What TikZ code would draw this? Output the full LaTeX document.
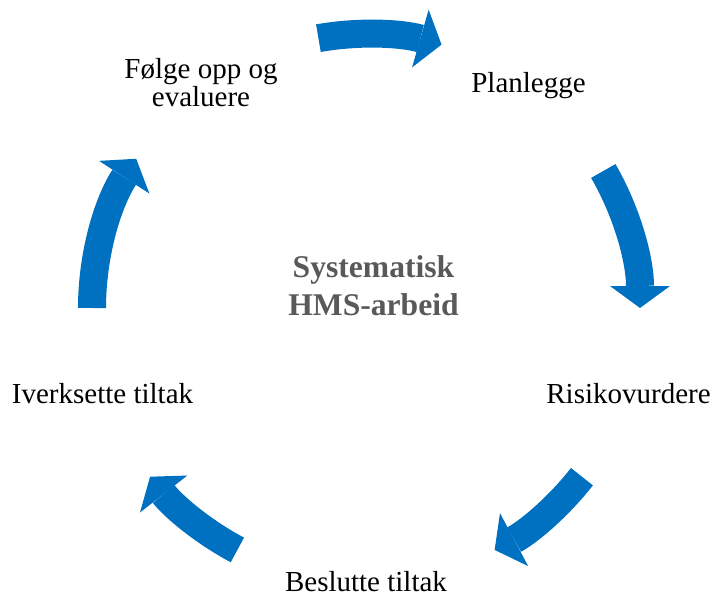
\documentclass[tikz,border=0pt]{standalone}
\usepackage{fontspec}
\setmainfont{Liberation Serif}
\usetikzlibrary{arrows.meta}
\definecolor{cycleblue}{RGB}{0,112,192}
\definecolor{centergray}{RGB}{89,89,89}
\begin{document}
\begin{tikzpicture}[x=0.5pt,y=0.5pt,
  steplabel/.style={font=\fontsize{14.5}{14}\selectfont, inner sep=0pt, anchor=base, align=center},
  cyclearrow/.style={cycleblue, line width=14pt, -{Triangle[length=11pt,width=30pt,line width=0pt]}}]
\useasboundingbox (0,0) rectangle (712,596);
\coordinate (c) at (366,288);
% the five curved arrows, start angle/end angle
\foreach \a/\b in {100/74, 30/0, -38/-62, -118/-142, 180/147}
  \draw[cyclearrow] ([shift={(\a:274)}]c) arc[start angle=\a, end angle=\b, radius=274];
% steps
\node[steplabel] (plan) at (528.5,503) {Planlegge};
\node[steplabel] (risiko) at (628.5,193) {Risikovurdere};
\node[steplabel] (beslutt) at (366,5) {Beslutte tiltak};
\node[steplabel] (iverk) at (102.5,193) {Iverksette tiltak};
\node[steplabel] (folg) at (201,489) {Følge opp og\\evaluere};
% centre
\node[font=\fontsize{15.8}{19}\selectfont\bfseries, text=centergray, align=center, inner sep=0pt, anchor=base] (hms) at (373.5,281) {Systematisk\\HMS-arbeid};
\end{tikzpicture}
\end{document}
